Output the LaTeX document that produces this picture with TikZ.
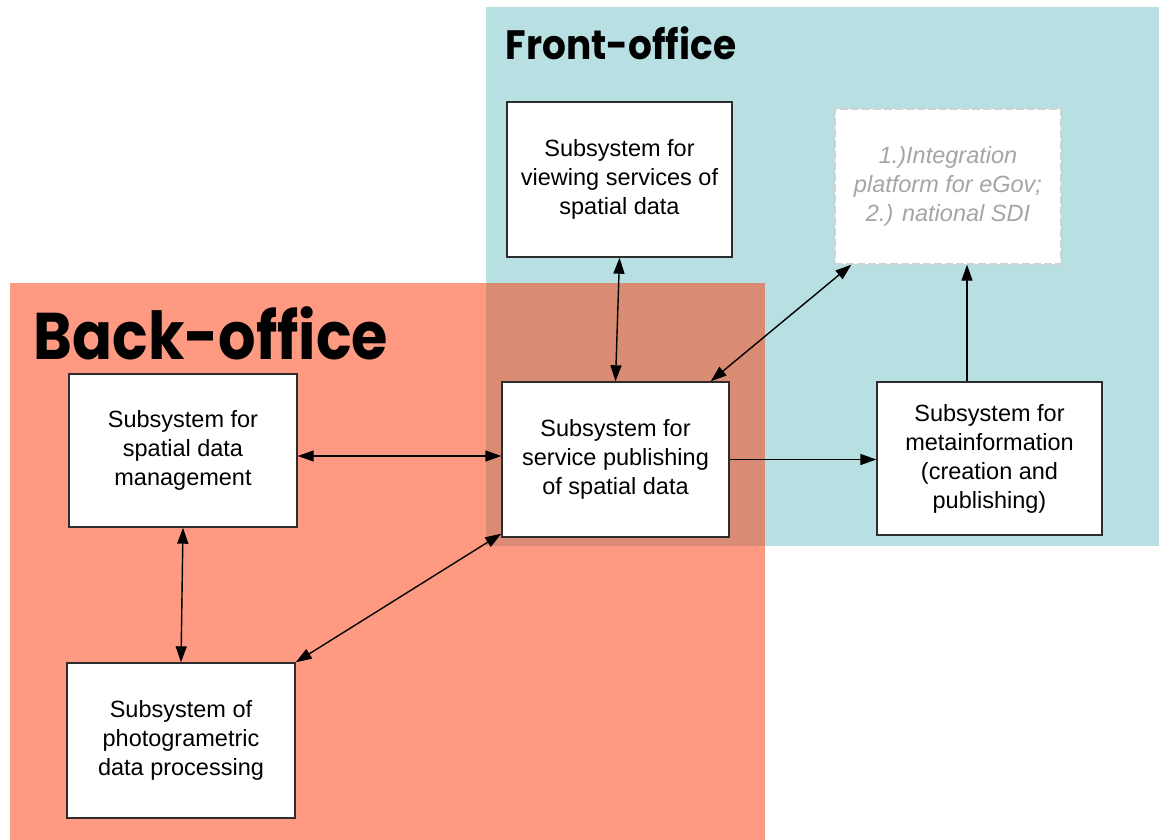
\documentclass[tikz,border=0pt]{standalone}
\usepackage{fontspec}
\setmainfont{Liberation Sans}
\newfontfamily\titlefont{Poppins}
\usetikzlibrary{arrows.meta}
\definecolor{frontc}{RGB}{184,223,226}
\definecolor{backc}{RGB}{254,154,130}
\definecolor{overc}{RGB}{217,139,116}
\definecolor{boxline}{RGB}{45,45,45}
\definecolor{dashc}{RGB}{210,210,210}
\definecolor{greytext}{RGB}{165,165,165}
\tikzset{
  sysbox/.style={draw=boxline, line width=1.4pt, fill=white, align=center, inner sep=0pt,
    font=\fontsize{23.5}{29}\selectfont},
  extbox/.style={draw=dashc, line width=1.4pt, dash pattern=on 8pt off 3pt, fill=white, align=center,
    inner sep=0pt, font=\fontsize{23.5}{29}\selectfont\itshape, text=greytext},
  conn/.style={line width=1.4pt, black, -{Triangle[length=16pt,width=11pt]}},
  bconn/.style={line width=1.4pt, black, {Triangle[length=16pt,width=11pt]}-{Triangle[length=16pt,width=11pt]}},
  regiontitle/.style={inner sep=0pt, anchor=center}
}
\begin{document}
\begin{tikzpicture}[x=1pt,y=-1pt]
\useasboundingbox (0,0) rectangle (1159,840);
% regions
\fill[frontc] (486,7) rectangle (1159,546);
\fill[backc] (10,283) rectangle (765,840);
\fill[overc] (486,283) rectangle (765,546);
\node[regiontitle] (fronttitle) at (621,43)
  {\scalebox{0.915}[1]{\titlefont\bfseries\fontsize{41}{48}\selectfont Front-office}};
\node[regiontitle] (backtitle) at (211,333)
  {\scalebox{0.893}[1]{\titlefont\bfseries\fontsize{66}{76}\selectfont Back-office}};
% boxes
\node[sysbox, minimum width=225pt, minimum height=155pt] (view) at (619.5,179.5)
  {Subsystem for\\viewing services of\\spatial data};
\node[extbox, minimum width=226pt, minimum height=155pt] (integ) at (948,186.5)
  {1.)Integration\\platform for eGov;\\2.) national SDI};
\node[sysbox, minimum width=227pt, minimum height=155pt] (serv) at (615.5,459.5)
  {Subsystem for\\service publishing\\of spatial data};
\node[sysbox, minimum width=225pt, minimum height=153pt] (meta) at (989.5,458.5)
  {Subsystem for\\metainformation\\(creation and\\publishing)};
\node[sysbox, minimum width=228pt, minimum height=153pt] (mgmt) at (183,450.5)
  {Subsystem for\\spatial data\\management};
\node[sysbox, minimum width=228pt, minimum height=155pt] (photo) at (181,740.5)
  {Subsystem of\\photogrametric\\data processing};
% connectors
\draw[bconn] (view.south) -- (serv.north);
\draw[bconn] ([xshift=-19pt]serv.north east) -- ([xshift=17pt]integ.south west);
\draw[conn] ([xshift=-22.5pt]meta.north) -- ([xshift=19pt]integ.south);
\draw[conn] (serv.east) -- (serv.east -| meta.west);
\draw[bconn] ([yshift=-5.5pt]mgmt.east) -- ([yshift=-5.5pt]mgmt.east -| serv.west);
\draw[bconn] (mgmt.south) -- (photo.north);
\draw[bconn] (photo.north east) -- ([yshift=4pt]serv.south west);
\end{tikzpicture}
\end{document}
